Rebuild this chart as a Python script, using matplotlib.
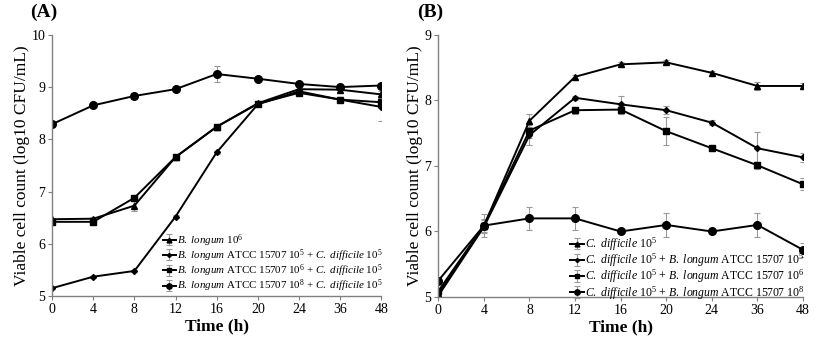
import matplotlib
matplotlib.use("Agg")
import matplotlib.pyplot as plt

plt.rcParams['font.family'] = ['Liberation Serif', 'DejaVu Serif']
plt.rcParams['mathtext.fontset'] = 'custom'
plt.rcParams['mathtext.rm'] = 'Liberation Serif'
plt.rcParams['mathtext.it'] = 'Liberation Serif:italic'
plt.rcParams['mathtext.bf'] = 'Liberation Serif:bold'

# vremenske tacke (h) - ose su kategorijske, jednako razmaknute
vreme = ['0', '4', '8', '12', '16', '20', '24', '36', '48']

# (A) B. longum rast
a_bl = [6.47, 6.48, 6.73, 7.66, 8.24, 8.69, 8.96, 8.95, 8.86]
a_bl_err = [0.03, 0.03, 0.10, 0.04, 0.04, 0.04, 0.05, 0.05, 0.06]
a_mix5 = [5.15, 5.37, 5.48, 6.52, 7.75, 8.67, 8.92, 8.76, 8.62]
a_mix5_err = [0.02, 0.02, 0.02, 0.03, 0.03, 0.04, 0.05, 0.05, 0.27]
a_mix6 = [6.42, 6.42, 6.88, 7.66, 8.24, 8.68, 8.89, 8.76, 8.71]
a_mix6_err = [0.03, 0.03, 0.05, 0.04, 0.04, 0.04, 0.05, 0.05, 0.08]
a_mix8 = [8.29, 8.65, 8.83, 8.96, 9.25, 9.16, 9.06, 9.00, 9.03]
a_mix8_err = [0.03, 0.03, 0.05, 0.03, 0.16, 0.03, 0.04, 0.04, 0.04]

# (B) C. difficile rast
b_cd = [5.05, 6.09, 7.69, 8.36, 8.55, 8.58, 8.42, 8.22, 8.22]
b_cd_err = [0.02, 0.05, 0.10, 0.03, 0.03, 0.03, 0.03, 0.06, 0.04]
b_mix5 = [5.02, 6.07, 7.47, 8.04, 7.94, 7.85, 7.66, 7.27, 7.13]
b_mix5_err = [0.02, 0.10, 0.15, 0.03, 0.12, 0.06, 0.04, 0.25, 0.07]
b_mix6 = [5.09, 6.09, 7.54, 7.85, 7.86, 7.53, 7.27, 7.01, 6.72]
b_mix6_err = [0.02, 0.10, 0.12, 0.05, 0.06, 0.21, 0.04, 0.05, 0.09]
b_mix8 = [5.25, 6.09, 6.20, 6.20, 6.00, 6.10, 6.00, 6.10, 5.72]
b_mix8_err = [0.02, 0.18, 0.18, 0.18, 0.03, 0.18, 0.03, 0.18, 0.11]

labele_a = [r'$\mathit{B.}$ $\mathit{longum}$ $10^{6}$',
            r'$\mathit{B.}$ $\mathit{longum}$ ATCC 15707 $10^{5}$ + $\mathit{C.}$ $\mathit{difficile}$ $10^{5}$',
            r'$\mathit{B.}$ $\mathit{longum}$ ATCC 15707 $10^{6}$ + $\mathit{C.}$ $\mathit{difficile}$ $10^{5}$',
            r'$\mathit{B.}$ $\mathit{longum}$ ATCC 15707 $10^{8}$ + $\mathit{C.}$ $\mathit{difficile}$ $10^{5}$']
labele_b = [r'$\mathit{C.}$ $\mathit{difficile}$ $10^{5}$',
            r'$\mathit{C.}$ $\mathit{difficile}$ $10^{5}$ + $\mathit{B.}$ $\mathit{longum}$ ATCC 15707 $10^{5}$',
            r'$\mathit{C.}$ $\mathit{difficile}$ $10^{5}$ + $\mathit{B.}$ $\mathit{longum}$ ATCC 15707 $10^{6}$',
            r'$\mathit{C.}$ $\mathit{difficile}$ $10^{5}$ + $\mathit{B.}$ $\mathit{longum}$ ATCC 15707 $10^{8}$']

markeri = ['^', 'D', 's', 'o']
velicine = [5, 3, 5, 5.5]


def crtaj(ax, serije, greske, labele, ymin, ymax, slovo, sx, leg_font, leg_y):
    x = list(range(len(vreme)))
    for y, e, lab, m, ms in zip(serije, greske, labele, markeri, velicine):
        ax.errorbar(x, y, yerr=e, color='black', marker=m, markersize=ms,
                    linewidth=1.4, ecolor='#999999', elinewidth=0.8,
                    capsize=2, capthick=0.8, label=lab)
    ax.set_xlim(0, len(vreme) - 1)
    ax.set_ylim(ymin, ymax)
    ax.set_xticks(x)
    ax.set_xticklabels(vreme)
    ax.set_yticks(range(ymin, ymax + 1))
    for s in ['top', 'right']:
        ax.spines[s].set_visible(False)
    for s in ['left', 'bottom']:
        ax.spines[s].set_color('#808080')
        ax.spines[s].set_linewidth(1.0)
    ax.tick_params(axis='both', colors='#808080', labelcolor='black',
                   labelsize=10, length=3, width=0.8, pad=2)
    ax.set_xlabel('Time (h)', fontsize=12.5, fontweight='bold', labelpad=2)
    ax.set_ylabel('Viable cell count (log10 CFU/mL)', fontsize=12.5, labelpad=1)
    ax.legend(loc='lower right', frameon=False, fontsize=leg_font,
              handlelength=1.2, handletextpad=0.1, labelspacing=-0.12,
              borderaxespad=0.1, markerscale=0.7,
              bbox_to_anchor=(1.02, leg_y))
    ax.text(sx, 1.085, slovo, transform=ax.transAxes, fontsize=14,
            fontweight='bold', va='center', ha='left')


fig = plt.figure(figsize=(8.27, 3.45), dpi=100)
ax_a = fig.add_axes([0.063, 0.142, 0.398, 0.757])
ax_b = fig.add_axes([0.530, 0.139, 0.441, 0.760])

crtaj(ax_a, [a_bl, a_mix5, a_mix6, a_mix8],
      [a_bl_err, a_mix5_err, a_mix6_err, a_mix8_err], labele_a, 5, 10, '(A)',
      -0.067, 7.9, -0.015)
crtaj(ax_b, [b_cd, b_mix5, b_mix6, b_mix8],
      [b_cd_err, b_mix5_err, b_mix6_err, b_mix8_err], labele_b, 5, 9, '(B)',
      -0.058, 8.5, -0.04)

fig.savefig('out.png', dpi=100)
